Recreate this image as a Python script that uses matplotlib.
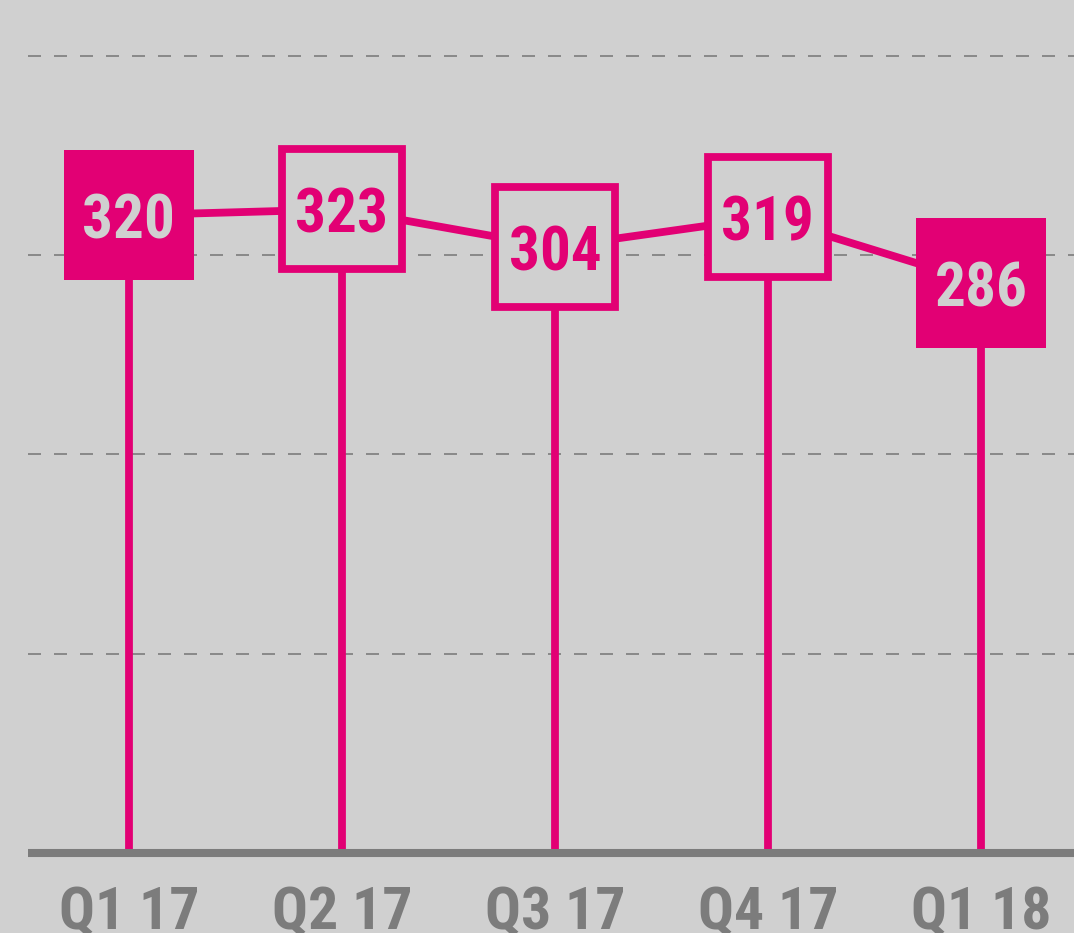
import matplotlib
matplotlib.use("Agg")
import matplotlib.pyplot as plt

categories = ["Q1 17", "Q2 17", "Q3 17", "Q4 17", "Q1 18"]
values = [320, 323, 304, 319, 286]
filled = [True, False, False, False, True]
grid_ticks = [100, 200, 300, 400]

MAGENTA = "#E20074"
BG = "#D0D0D0"
GRAY = "#7C7C7C"
FONT = ["Roboto Condensed", "DejaVu Sans"]
LW = 5.6

fig = plt.figure(figsize=(10.74, 9.33), dpi=100, facecolor=BG)
ax = fig.add_axes([0.026, 0.0857, 0.974, 0.9143])
ax.set_facecolor(BG)
x = list(range(len(categories)))
ax.set_xlim(-0.474, 4.437)
ax.set_ylim(0, 428)

for g in grid_ticks:
    ax.axhline(g, color="#8A8A8A", linewidth=1.44, dashes=(6.5, 6.5), zorder=1)

# stems
ax.vlines(x, 0, values, color=MAGENTA, linewidth=LW, zorder=2)
# connecting line
ax.plot(x, values, color=MAGENTA, linewidth=LW, zorder=3, solid_capstyle="butt")

for xi, v, f in zip(x, values, filled):
    if f:
        ax.plot([xi], [v], marker="s", markersize=93.6, markerfacecolor=MAGENTA,
                markeredgewidth=0, linestyle="none", zorder=4)
        tc = BG
    else:
        ax.plot([xi], [v], marker="s", markersize=86.4, markerfacecolor=BG,
                markeredgecolor=MAGENTA, markeredgewidth=LW, linestyle="none", zorder=4)
        tc = MAGENTA
    ax.text(xi, v, str(v), ha="center", va="center_baseline", color=tc,
            fontsize=44, fontweight="bold", family=FONT, zorder=5)

# baseline
ax.axhline(0, color=GRAY, linewidth=5.8, zorder=3, clip_on=False, solid_capstyle="butt")

ax.set_xticks(x)
ax.set_xticklabels(categories, fontsize=43, fontweight="bold", color=GRAY, family=FONT)
ax.tick_params(axis="x", length=0, pad=23)
ax.set_yticks([])
for s in ax.spines.values():
    s.set_visible(False)

fig.savefig("out.png", dpi=100, facecolor=BG)
